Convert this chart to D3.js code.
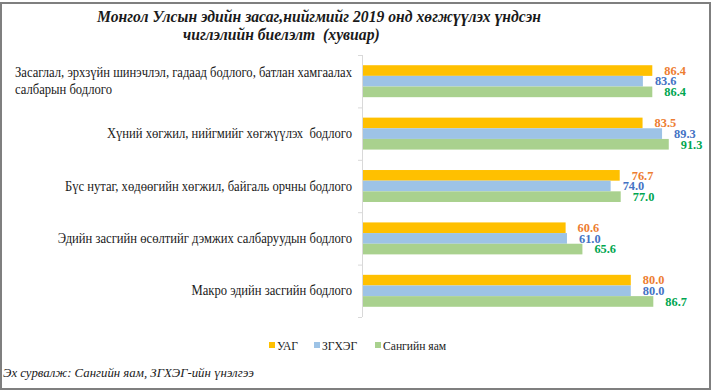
<!DOCTYPE html>
<html><head><meta charset="utf-8">
<script src="https://cdn.jsdelivr.net/npm/d3@7"></script>
<style>
html,body{margin:0;padding:0;background:#fff;}
svg{display:block;}
text{font-family:"Liberation Serif","Times New Roman",serif;white-space:pre;}
</style></head>
<body>
<svg id="c" width="712" height="392"></svg>
<script>
const titleLines = ["Монгол Улсын эдийн засаг,нийгмийг 2019 онд хөгжүүлэх үндсэн", "чиглэлийн биелэлт  (хувиар)"];
const categories = [
  ["Засаглал, эрхзүйн шинэчлэл, гадаад бодлого, батлан хамгаалах", "салбарын бодлого"],
  ["Хүний хөгжил, нийгмийг хөгжүүлэх  бодлого"],
  ["Бүс нутаг, хөдөөгийн хөгжил, байгаль орчны бодлого"],
  ["Эдийн засгийн өсөлтийг дэмжих салбаруудын бодлого"],
  ["Макро эдийн засгийн бодлого"]
];
const seriesNames = ["УАГ", "ЗГХЭГ", "Сангийн яам"];
const uag = [86.4, 83.5, 76.7, 60.6, 80.0];
const zghe = [83.6, 89.3, 74.0, 61.0, 80.0];
const sangiin = [86.4, 91.3, 77.0, 65.6, 86.7];
const sourceNote = "Эх сурвалж: Сангийн яам, ЗГХЭГ-ийн үнэлгээ";

const barColors = ["#FFC000", "#9DC3E6", "#A9D18E"];
const labelColors = ["#ED7D31", "#4472C4", "#00A650"];
const seriesValues = [uag, zghe, sangiin];

const svg = d3.select("#c");
// condense a text horizontally by a factor, keeping it real text
function squeeze(sel, k){
  const w = sel.node().getComputedTextLength();
  sel.attr("textLength", w*k).attr("lengthAdjust","spacingAndGlyphs");
  return w*k;
}
function fitWidth(sel, target){
  sel.attr("textLength", target).attr("lengthAdjust","spacingAndGlyphs");
}

// frame
svg.append("rect").attr("x",1).attr("y",3).attr("width",709).attr("height",386)
  .attr("fill","#fff").attr("stroke","#7f7f7f").attr("stroke-width",2);

// title
const tt1 = svg.append("text").attr("x",97).attr("y",22).attr("font-size",16).attr("font-weight","bold").attr("font-style","italic").attr("fill","#1a1a1a").text(titleLines[0]);
const natT = tt1.node().getComputedTextLength();
const kT = 444/natT;
fitWidth(tt1, 444);
const tt2 = svg.append("text").attr("x",183).attr("y",40).attr("font-size",16).attr("font-weight","bold").attr("font-style","italic").attr("fill","#1a1a1a").text(titleLines[1]);
squeeze(tt2, kT);

const idx = d3.range(categories.length);
const y0 = d3.scaleBand().domain(idx).range([55, 317]).paddingInner(0.39).paddingOuter(0.195);
const y1 = d3.scaleBand().domain(d3.range(3)).range([0, y0.bandwidth()]);
const x = d3.scaleLinear().domain([0, 100]).range([362, 698]);

// axis
const step = y0.step();
svg.append("line").attr("x1",362.5).attr("x2",362.5).attr("y1",55).attr("y2",317).attr("stroke","#d9d9d9");
d3.range(categories.length+1).forEach(i=>{
  svg.append("line").attr("x1",358).attr("x2",362).attr("y1",55.5+i*step).attr("y2",55.5+i*step).attr("stroke","#d9d9d9");
});

// bars
idx.forEach(ci=>{
  const g = svg.append("g").attr("transform",`translate(0,${y0(ci)})`);
  seriesValues.forEach((vals, si)=>{
    g.append("rect").attr("x",x(0)+1).attr("y",y1(si)).attr("width",x(vals[ci])-x(0)-1).attr("height",y1.bandwidth()).attr("fill",barColors[si]);
    const t = g.append("text").attr("x",x(vals[ci])+12).attr("y",y1(si)+y1.bandwidth()/2+4.3)
      .attr("font-size",13).attr("font-weight","bold").attr("fill",labelColors[si]).text(vals[ci].toFixed(1));
    squeeze(t, 0.95);
  });
});

// category labels
const cfs = 13.6;
const probe = svg.append("text").attr("font-size",cfs).text(categories[0][0]);
const kC = 337/probe.node().getComputedTextLength();
probe.remove();
idx.forEach(ci=>{
  const lines = categories[ci];
  const cy = y0(ci)+y0.bandwidth()/2;
  if(lines.length===1){
    const t = svg.append("text").attr("x",352).attr("y",cy+4.5).attr("text-anchor","end").attr("font-size",cfs).attr("fill","#1a1a1a").text(lines[0]);
    squeeze(t, kC);
  } else {
    const t1 = svg.append("text").attr("x",352).attr("y",cy-4).attr("text-anchor","end").attr("font-size",cfs).attr("fill","#1a1a1a").text(lines[0]);
    const w = squeeze(t1, kC);
    const t2 = svg.append("text").attr("x",352-w).attr("y",cy+12.5).attr("font-size",cfs).attr("fill","#1a1a1a").text(lines[1]);
    squeeze(t2, kC);
  }
});

// legend
const legX = [269, 314, 375];
seriesNames.forEach((n,i)=>{
  svg.append("rect").attr("x",legX[i]).attr("y",342).attr("width",6).attr("height",6).attr("fill",barColors[i]);
  const t = svg.append("text").attr("x",legX[i]+8).attr("y",349.5).attr("font-size",12.5).attr("fill","#1a1a1a").text(n);
  squeeze(t, kC);
});

// source
const src = svg.append("text").attr("x",3).attr("y",377).attr("font-size",13).attr("font-style","italic").attr("fill","#1a1a1a").text(sourceNote);
fitWidth(src, 251);
</script>
</body></html>
